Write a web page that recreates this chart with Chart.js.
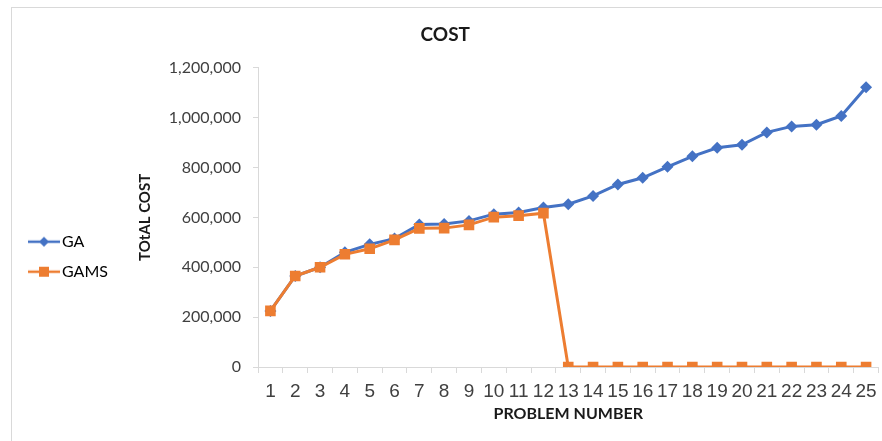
<!DOCTYPE html>
<html lang="en">
<head>
<meta charset="utf-8">
<script src="https://cdn.jsdelivr.net/npm/chart.js@4.4.1/dist/chart.umd.min.js"></script>
<style>
  html, body { margin: 0; padding: 0; background: #fff; overflow: hidden; }
  #frame { position: absolute; left: 11px; top: 7px; width: 882px; height: 440px; border: 1px solid #d9d9d9; }
  #wrap { width: 882px; height: 433px; }
</style>
</head>
<body>
<div id="frame"><div id="wrap"><canvas id="costChart"></canvas></div></div>
<script>
const problems = ["1","2","3","4","5","6","7","8","9","10","11","12","13","14","15","16","17","18","19","20","21","22","23","24","25"];
const gaCost = [225000, 365000, 400000, 460000, 492000, 515000, 572000, 574000, 586000, 613000, 620000, 640000, 653000, 686000, 732000, 759000, 803000, 845000, 879000, 891000, 941000, 965000, 972000, 1007000, 1122000];
const gamsCost = [225000, 365000, 400000, 452000, 474000, 510000, 556000, 557000, 570000, 601000, 607000, 617000, 0, 0, 0, 0, 0, 0, 0, 0, 0, 0, 0, 0, 0];
const yTicks = [0, 200000, 400000, 600000, 800000, 1000000, 1200000];

const blue = "#4472C4";
const orange = "#ED7D31";

// little line+marker picture for the legend
function legendIcon(color, shape) {
  const c = document.createElement("canvas");
  c.width = 32; c.height = 14;
  const g = c.getContext("2d");
  g.strokeStyle = color; g.lineWidth = 2.5;
  g.beginPath(); g.moveTo(0, 7); g.lineTo(32, 7); g.stroke();
  g.fillStyle = color;
  g.beginPath();
  if (shape === "diamond") {
    g.moveTo(16, 2); g.lineTo(21, 7); g.lineTo(16, 12); g.lineTo(11, 7); g.closePath();
  } else {
    g.rect(11, 2, 10, 10);
  }
  g.fill();
  return c;
}
const icons = [legendIcon(blue, "diamond"), legendIcon(orange, "square")];

const moveLegend = {
  id: "moveLegend",
  afterLayout(chart) {
    const lg = chart.legend;
    lg.left = 8; lg.right = 120;
    lg.top = 211.7; lg.bottom = 420;
  }
};

new Chart(document.getElementById("costChart"), {
  type: "line",
  data: {
    labels: problems,
    datasets: [
      {
        label: "GA",
        data: gaCost,
        borderColor: blue,
        backgroundColor: blue,
        borderWidth: 3,
        pointStyle: "rectRot",
        pointRadius: 6,
        pointBorderWidth: 0,
        order: 1
      },
      {
        label: "GAMS",
        data: gamsCost,
        borderColor: orange,
        backgroundColor: orange,
        borderWidth: 3,
        pointStyle: "rect",
        pointRadius: 7.5,
        pointBorderWidth: 0,
        order: 0
      }
    ]
  },
  options: {
    responsive: true,
    maintainAspectRatio: false,
    animation: false,
    layout: { padding: { left: 0, right: 15.5, top: 0, bottom: 0 } },
    plugins: {
      title: {
        display: true,
        text: "COST",
        color: "#1a1a1a",
        font: { family: "Lato", size: 19, weight: "bold" },
        padding: { top: 15, bottom: 22 }
      },
      legend: {
        position: "chartArea",
        align: "start",
        labels: {
          usePointStyle: true,
          pointStyleWidth: 20,
          padding: 14,
          color: "#595959",
          font: { family: "Lato", size: 16 },
          generateLabels: (chart) => chart.data.datasets.map((ds, i) => ({
            text: ds.label,
            pointStyle: icons[i],
            fillStyle: ds.borderColor,
            strokeStyle: ds.borderColor,
            lineWidth: 0,
            datasetIndex: i
          }))
        }
      },
      tooltip: { enabled: false }
    },
    scales: {
      x: {
        offset: true,
        afterFit: (s) => { s.height = 74; },
        grid: { offset: true, drawOnChartArea: false, tickLength: 6, color: "#d9d9d9" },
        border: { color: "#d9d9d9" },
        ticks: {
          autoSkip: false, maxRotation: 0, minRotation: 0, padding: 7,
          color: "#404040",
          font: { family: "'Liberation Sans Narrow', 'Arial Narrow', 'Liberation Sans'", size: 19 }
        },
        title: {
          display: true,
          text: "PROBLEM NUMBER",
          color: "#1a1a1a",
          font: { family: "Lato", size: 16, weight: "bold" },
          padding: { top: 0, bottom: 18 }
        }
      },
      y: {
        min: 0,
        max: 1200000,
        afterFit: (s) => { s.width = 246; },
        afterBuildTicks: (s) => { s.ticks = yTicks.map(v => ({ value: v })); },
        grid: { drawOnChartArea: false, tickLength: 5, color: "#d9d9d9" },
        border: { color: "#d9d9d9" },
        ticks: {
          padding: 12,
          color: "#404040",
          font: { family: "Lato", size: 16 },
          callback: (v) => v.toLocaleString("en-US")
        },
        title: {
          display: true,
          text: "TOtAL COST",
          color: "#1a1a1a",
          font: { family: "Lato", size: 15, weight: "bold" },
          padding: { top: 124, bottom: 0 }
        }
      }
    }
  },
  plugins: [moveLegend]
});
</script>
</body>
</html>
